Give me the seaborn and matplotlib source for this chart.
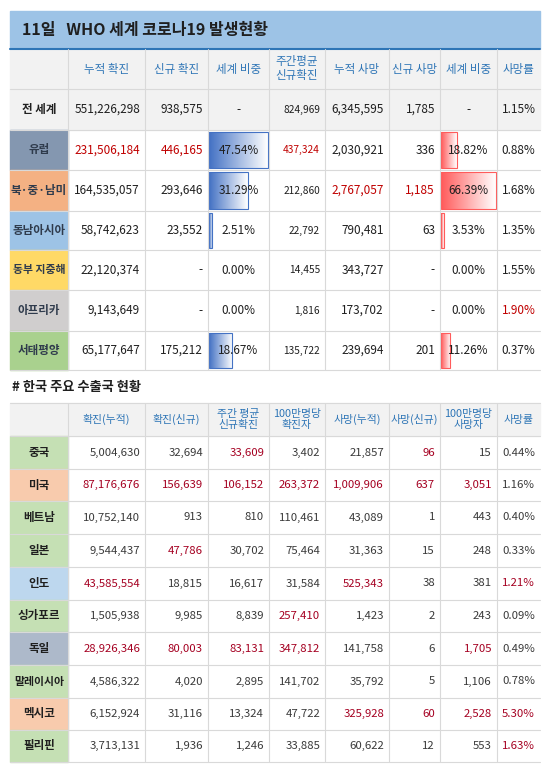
import numpy as np
import matplotlib.pyplot as plt
import seaborn as sns
from matplotlib.patches import Rectangle
from matplotlib.colors import LinearSegmentedColormap

# ---- data ----
title = "11일   WHO 세계 코로나19 발생현황"
top_cols = ["누적 확진", "신규 확진", "세계 비중", "주간평균\n신규확진", "누적 사망", "신규 사망", "세계 비중", "사망률"]
regions = ["전 세계", "유럽", "북·중·남미", "동남아시아", "동부 지중해", "아프리카", "서태평양"]
cum_cases = ["551,226,298", "231,506,184", "164,535,057", "58,742,623", "22,120,374", "9,143,649", "65,177,647"]
new_cases = ["938,575", "446,165", "293,646", "23,552", "-", "-", "175,212"]
case_share = [None, 47.54, 31.29, 2.51, 0.00, 0.00, 18.67]
weekly_avg = ["824,969", "437,324", "212,860", "22,792", "14,455", "1,816", "135,722"]
cum_deaths = ["6,345,595", "2,030,921", "2,767,057", "790,481", "343,727", "173,702", "239,694"]
new_deaths = ["1,785", "336", "1,185", "63", "-", "-", "201"]
death_share = [None, 18.82, 66.39, 3.53, 0.00, 0.00, 11.26]
death_rate = ["1.15%", "0.88%", "1.68%", "1.35%", "1.55%", "1.90%", "0.37%"]
top_red = {(1, 0), (1, 1), (1, 3), (2, 4), (2, 5), (5, 7)}
region_colors = ["#F2F2F2", "#8497B0", "#F4B183", "#9DC3E6", "#FFD966", "#D0CECE", "#A9D18E"]

subtitle = "# 한국 주요 수출국 현황"
bot_cols = ["확진(누적)", "확진(신규)", "주간 평균\n신규확진", "100만명당\n확진자", "사망(누적)", "사망(신규)", "100만명당\n사망자", "사망률"]
countries = ["중국", "미국", "베트남", "일본", "인도", "싱가포르", "독일", "말레이시아", "멕시코", "필리핀"]
c_cum = ["5,004,630", "87,176,676", "10,752,140", "9,544,437", "43,585,554", "1,505,938", "28,926,346", "4,586,322", "6,152,924", "3,713,131"]
c_new = ["32,694", "156,639", "913", "47,786", "18,815", "9,985", "80,003", "4,020", "31,116", "1,936"]
c_week = ["33,609", "106,152", "810", "30,702", "16,617", "8,839", "83,131", "2,895", "13,324", "1,246"]
c_per_m = ["3,402", "263,372", "110,461", "75,464", "31,584", "257,410", "347,812", "141,702", "47,722", "33,885"]
c_deaths = ["21,857", "1,009,906", "43,089", "31,363", "525,343", "1,423", "141,758", "35,792", "325,928", "60,622"]
c_new_d = ["96", "637", "1", "15", "38", "2", "6", "5", "60", "12"]
c_d_per_m = ["15", "3,051", "443", "248", "381", "243", "1,705", "1,106", "2,528", "553"]
c_rate = ["0.44%", "1.16%", "0.40%", "0.33%", "1.21%", "0.09%", "0.49%", "0.78%", "5.30%", "1.63%"]
bot_red = {(0, 2), (0, 5), (1, 0), (1, 1), (1, 2), (1, 3), (1, 4), (1, 5), (1, 6), (3, 1),
           (4, 0), (4, 4), (4, 7), (5, 3), (6, 0), (6, 1), (6, 2), (6, 3), (6, 6),
           (8, 4), (8, 5), (8, 6), (8, 7), (9, 7)}
country_colors = ["#C5E0B4", "#F8CBAD", "#C5E0B4", "#C5E0B4", "#BDD7EE", "#C5E0B4",
                  "#ADB9CA", "#C5E0B4", "#F8CBAD", "#C5E0B4"]

sns.set_theme(style="white")
plt.rcParams['font.family'] = ['Noto Sans CJK KR', 'DejaVu Sans']

fig = plt.figure(figsize=(5.5, 7.68), dpi=100)
ax = fig.add_axes([0, 0, 1, 1])
ax.set_xlim(0, 550)
ax.set_ylim(768, 0)
ax.axis("off")

RED = "#C00000"
HEAD = "#2E75B6"
GRID = "#D9D9D9"
xs = [10, 68, 145, 208, 269, 325, 389, 440, 497, 540]


def cell_text(c, y0, y1, s, align, color, size, weight="normal"):
    x0, x1 = xs[c], xs[c + 1]
    ym = (y0 + y1) / 2
    if align == "right":
        ax.text(x1 - 5, ym, s, ha="right", va="center", color=color, fontsize=size, fontweight=weight,
                linespacing=1.1, zorder=3)
    else:
        ax.text((x0 + x1) / 2, ym, s, ha="center", va="center", color=color, fontsize=size, fontweight=weight,
                linespacing=1.1, zorder=3)


def data_bar(c, y0, y1, val, vmax, color):
    x0, x1 = xs[c], xs[c + 1]
    w = (x1 - x0 - 2) * val / vmax
    if w <= 0:
        return
    grad = np.linspace(0, 1, 64)[None, :]
    cmap = LinearSegmentedColormap.from_list("g", [color, "white"])
    ax.imshow(grad, extent=(x0 + 1, x0 + 1 + w, y1 - 2, y0 + 2), cmap=cmap, aspect="auto", zorder=1)
    ax.add_patch(Rectangle((x0 + 1, y0 + 2), w, y1 - y0 - 4, fill=False, ec=color, lw=0.8, zorder=2))


# ---- top table ----
ax.add_patch(Rectangle((10, 11), 530, 38, color="#9DC3E6", zorder=0))
ax.plot([10, 540], [49, 49], color="#2E75B6", lw=1.5)
ax.text(22, 30, title, ha="left", va="center", fontsize=11.5, fontweight="bold", color="#1F1F1F")

top_rows = [49, 89, 130, 170, 211, 250, 290, 331, 370]
ax.add_patch(Rectangle((10, 49), 530, 40, color="#F2F2F2", zorder=0))
ax.add_patch(Rectangle((10, 89), 530, 41, color="#F2F2F2", zorder=0))
for j, h in enumerate(top_cols):
    cell_text(j + 1, 49, 89, h, "center", HEAD, 8.3)

top_data = [cum_cases, new_cases, None, weekly_avg, cum_deaths, new_deaths, None, death_rate]
for i, reg in enumerate(regions):
    y0, y1 = top_rows[i + 1], top_rows[i + 2]
    ax.add_patch(Rectangle((10, y0), 58, y1 - y0, color=region_colors[i], zorder=0))
    cell_text(0, y0, y1, reg, "center", "#1F1F1F" if i == 0 else "#2F3B4C", 8.3 if i != 4 else 7.8, "bold")
    for j, col in enumerate(top_data):
        color = RED if (i, j) in top_red else "#1F1F1F"
        if j in (2, 6):
            shares = case_share if j == 2 else death_share
            v = shares[i]
            if v is None:
                cell_text(j + 1, y0, y1, "-", "center", color, 8.5)
                continue
            vmax = max(s for s in shares if s is not None)
            data_bar(j + 1, y0, y1, v, vmax, "#4472C4" if j == 2 else "#FF5B5B")
            ax.text((xs[j + 1] + xs[j + 2]) / 2, (y0 + y1) / 2, f"{v:.2f}%", ha="center", va="center",
                    fontsize=8.5, color=color, zorder=3)
        else:
            cell_text(j + 1, y0, y1, col[i], "right" if j != 7 else "center", color, 7.3 if j == 3 else 8.5)

for y in top_rows[1:]:
    ax.plot([10, 540], [y, y], color=GRID, lw=0.8)
for x in xs[1:-1]:
    ax.plot([x, x], [49, 370], color=GRID, lw=0.8)

# ---- bottom table ----
ax.text(12, 387, subtitle, ha="left", va="center", fontsize=9.5, fontweight="bold", color="#1F1F1F")
bot_rows = [403, 436, 469, 501, 534, 567, 600, 632, 665, 698, 730, 762]
ax.add_patch(Rectangle((10, 403), 530, 33, color="#F2F2F2", zorder=0))
for j, h in enumerate(bot_cols):
    cell_text(j + 1, 403, 436, h, "center", HEAD, 7.8)

bot_data = [c_cum, c_new, c_week, c_per_m, c_deaths, c_new_d, c_d_per_m, c_rate]
for i, cn in enumerate(countries):
    y0, y1 = bot_rows[i + 1], bot_rows[i + 2]
    ax.add_patch(Rectangle((10, y0), 58, y1 - y0, color=country_colors[i], zorder=0))
    cell_text(0, y0, y1, cn, "center", "#1F1F1F", 8.3 if i != 7 else 7.8, "bold")
    for j, col in enumerate(bot_data):
        color = "#A50021" if (i, j) in bot_red else "#3A3A3A"
        cell_text(j + 1, y0, y1, col[i], "right", color, 8.2)

for y in bot_rows:
    ax.plot([10, 540], [y, y], color=GRID, lw=0.8)
for x in xs[1:-1]:
    ax.plot([x, x], [403, 762], color=GRID, lw=0.8)

fig.savefig("out.png", dpi=100)
